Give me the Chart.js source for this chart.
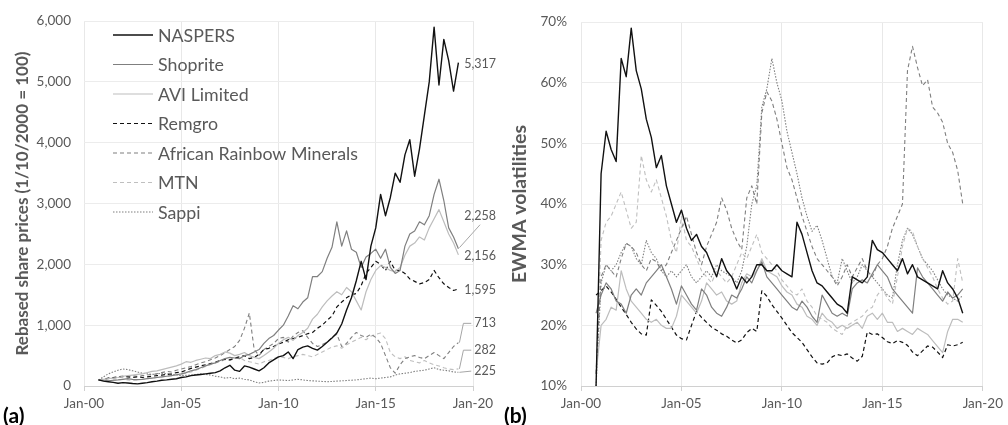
<!DOCTYPE html>
<html><head><meta charset="utf-8">
<script src="https://cdn.jsdelivr.net/npm/chart.js@4.4.1/dist/chart.umd.min.js"></script>
<style>
html,body{margin:0;padding:0;background:#fff;width:1008px;height:425px;overflow:hidden;}
#c1{position:absolute;left:0;top:0;}
#c2{position:absolute;left:500px;top:0;}
.tag{position:absolute;font-family:Lato,"Noto Sans",sans-serif;font-weight:bold;font-size:21px;color:#000;line-height:22px;}
</style></head><body>
<canvas id="c1" width="500" height="425"></canvas>
<canvas id="c2" width="508" height="425"></canvas>
<div class="tag" style="left:3px;top:404px">(a)</div>
<div class="tag" style="left:504px;top:404px">(b)</div>
<script>
// x positions: years since Jan-2000 (quarterly)
const dates = [0.75,
 1,1.25,1.5,1.75, 2,2.25,2.5,2.75, 3,3.25,3.5,3.75, 4,4.25,4.5,4.75,
 5,5.25,5.5,5.75, 6,6.25,6.5,6.75, 7,7.25,7.5,7.75, 8,8.25,8.5,8.75,
 9,9.25,9.5,9.75, 10,10.25,10.5,10.75, 11,11.25,11.5,11.75, 12,12.25,12.5,12.75,
 13,13.25,13.5,13.75, 14,14.25,14.5,14.75, 15,15.25,15.5,15.75, 16,16.25,16.5,16.75,
 17,17.25,17.5,17.75, 18,18.25,18.5,18.75, 19,19.25];

const seriesNames = ['NASPERS','Shoprite','AVI Limited','Remgro','African Rainbow Minerals','MTN','Sappi'];

// (a) Rebased share prices
const priceNaspers = [100,
 80,70,60,45, 55,50,40,35, 45,55,70,80, 95,100,110,120,
 140,150,170,180, 190,200,210,220, 250,300,340,260, 240,330,310,280,
 250,300,380,430, 480,500,560,450, 600,640,660,620, 590,650,720,790,
 870,1020,1250,1450, 1730,2050,1750,2300, 2600,3150,2800,3100, 3500,3350,3800,4050,
 3450,3900,4450,5000, 5900,4950,5700,5350, 4850,5317];
const priceShoprite = [100,
 90,85,95,100, 110,120,110,105, 110,120,130,140, 150,160,170,185,
 200,220,250,270, 300,330,360,380, 420,450,470,460, 450,500,520,560,
 600,700,780,830, 920,1000,1150,1320, 1270,1380,1450,1800, 1800,1880,2100,2280,
 2700,2300,2550,2250, 2200,1950,2120,2180, 2250,2100,2250,1950, 1850,1900,2300,2500,
 2550,2700,2650,2800, 3150,3400,3050,2600, 2450,2258];
const priceAvi = [100,
 110,120,130,140, 160,170,180,190, 200,220,240,250, 270,290,310,330,
 360,400,390,420, 440,460,450,500, 520,560,540,500, 520,550,500,470,
 450,500,560,620, 700,760,800,750, 830,880,950,1100, 1180,1300,1400,1480,
 1550,1500,1620,1550, 1400,1250,1550,1750, 1900,1980,1950,1900, 1880,1950,2150,2300,
 2350,2450,2400,2600, 2750,2900,2700,2500, 2350,2156];
const priceRemgro = [100,
 110,130,140,150, 160,150,140,150, 140,150,160,170, 180,190,200,220,
 230,260,290,310, 330,350,370,390, 420,440,430,460, 480,500,450,470,
 520,600,620,650, 690,720,760,780, 800,830,860,880, 950,1000,1080,1150,
 1300,1380,1450,1500, 1520,1650,1850,1950, 2050,2000,1900,2050, 1900,1900,1850,1760,
 1720,1680,1700,1750, 1900,1780,1680,1620, 1570,1595];
const priceArm = [100,
 110,120,130,140, 150,160,170,160, 170,180,190,200, 220,240,230,260,
 280,300,320,350, 380,400,430,460, 500,550,600,650, 750,950,1200,600,
 500,600,650,700, 780,800,720,820, 880,910,800,700, 650,680,720,800,
 850,650,700,800, 880,830,800,850, 800,700,500,300, 210,350,450,480,
 500,470,450,500, 550,500,450,550, 650,713];
const priceMtn = [100,
 90,80,90,100, 110,100,90,100, 110,120,130,140, 150,160,170,180,
 190,210,230,260, 290,320,350,380, 400,430,420,450, 470,420,400,380,
 360,400,420,450, 480,470,450,480, 500,520,500,480, 520,560,600,640,
 660,620,680,720, 760,800,760,820, 850,870,780,550, 480,450,480,420,
 400,380,420,380, 350,330,300,280, 270,282];
const priceSappi = [100,
 150,200,230,260, 280,270,250,230, 210,200,190,200, 210,200,190,180,
 170,175,180,190, 200,190,180,160, 150,130,140,120, 130,110,100,70,
 50,60,80,90, 100,95,90,100, 110,100,90,85, 80,75,70,75,
 80,85,90,95, 100,110,120,130, 120,130,140,150, 180,200,210,220,
 240,250,260,280, 300,270,260,250, 230,225];

// (b) EWMA volatilities (%)
const volNaspers = [10,
 45,52,49,47, 64,61,69,62, 59,54,51,46, 48,43,40,37,
 39,36,34,35, 33,32,30,28, 31,29,28,26, 28,27,28,30,
 30,29,29,30, 29,28.5,28,37, 35,32,29,27, 26.5,25.5,24.5,23.5,
 23,22,28,27.5, 27,28,34,32.5, 32,31,30,29, 31,28.5,30,28,
 27.5,27,26.5,26, 29,27,26,24.5, 22];
const volShoprite = [22,
 25,27,26,24, 23.5,22,25,26, 25,27,28,29, 30,28,26,23.5,
 26.5,25,23.5,22.5, 26,25,23,22, 21.5,23,25,24.5, 26,28,27,29,
 30.5,28,27,26, 25,24,23,22.5, 24,23,21.5,20.5, 25,23.5,22,21.5,
 22,21.5,26,27, 27.5,27,28.5,30, 29,28,26,25, 24,23,22,29.5,
 28,27,26,25, 24,25.5,24.5,25, 26];
const volAvi = [12,
 20,21,23,22.5, 29,26,24,23, 22,21,20.5,21, 20,19.5,19.5,21.5,
 25,24,23,22, 24,27,26,25, 25.5,24,23.5,24, 27,28.5,28,29,
 31,29,28.5,28, 26.5,25.5,25,23.5, 23,21.5,21,20, 22,21,20.5,19.5,
 20,19.5,20,20.5, 19.5,21.5,22,21, 22,20.5,20.5,19, 19.5,19,18.5,19.5,
 19,18.5,17.5,16.5, 15.5,19,21,21, 20.5];
const volRemgro = [25,
 25.7,26.5,25.5,24.3, 23,21.8,20.5,19.4, 18.6,18.4,24.2,23.3, 22.3,21,19.7,18.4,
 17.8,17.6,20,22.3, 21.3,20.5,19.7,19.2, 18.6,18.2,17.6,17.1, 17.6,18.8,19.5,19,
 25.7,24.8,23.4,22.3, 21.2,20,18.8,18, 17.2,16,14.8,13.8, 13.6,13.8,14.8,15.2,
 15,15.3,14.6,14.1, 14.9,18.9,18.5,18.6, 18,17.3,17,17.5, 17.2,16.7,15.6,15,
 15.8,16.6,16.4,15.6, 14.7,16.8,16.6,16.8, 17.2];
const volArm = [12,
 28,30,29,28, 31,33.5,33,32, 30,29,31,30.5, 29,30,32,34,
 36,38,35,32, 30,33,35,37, 41,39,36,34, 32.5,41,43,40,
 55,58.5,57,54, 50,46,44,41, 38,35.5,33,31, 30,29,28,26.5,
 28,30,28,29.5, 31,29,28,30, 31,33,36,38, 40,62,66,62.5,
 59.5,60.5,56,55, 53.5,50,48.5,45.5, 40];
const volMtn = [12,
 34,37,38,40, 42,39,36,37, 48,44,42,44, 41,38,34,32,
 38,34,33,31, 29,28,27,29, 28,27,28,30, 32,31,33,35,
 32,31,30,29, 27.5,26.5,25.5,25, 26,24,23,21.5, 21,20.5,19.5,19,
 18.5,20,20.5,21, 21.5,22.5,23,25, 26,24.5,23.5,28, 33,36,35.5,33,
 31,29.5,28,26, 24.5,23.5,24,31, 27];
const volSappi = [10,
 27,30,29,30, 32,33.5,33,31, 30,34,32,31, 29,28,29,28,
 29,30,28,27, 28,29,28,30, 29,28.5,28,27, 29,33,40,43,
 56,59,64,60, 57,52,48.5,45, 41,38,35.5,36.5, 34,31,28,27,
 31,29,27,28, 30,29,28,27, 26,25,24.5,30, 34,36,35,33,
 31,30,29,27.5, 26,25,24.5,24, 25];

const priceTicks = {min:0, max:6000, step:1000};
const volTicks = {min:10, max:70, step:10};
const xTicks = {min:0, max:20, step:5};

// ---------- styling ----------
const FONT = 'Lato, "Noto Sans", sans-serif';
Chart.defaults.font.family = FONT;
Chart.defaults.color = '#595959';
Chart.defaults.animation = false;

const styles = [
  {color:'#111111', width:1.4, dash:[]},
  {color:'#7f7f7f', width:1.2, dash:[]},
  {color:'#bdbdbd', width:1.2, dash:[]},
  {color:'#111111', width:1.2, dash:[4,3]},
  {color:'#7f7f7f', width:1.1, dash:[4,3]},
  {color:'#bfbfbf', width:1.1, dash:[4,3]},
  {color:'#7f7f7f', width:1.1, dash:[1.5,1.5]}
];

function mkDatasets(list){
  return list.map((vals,i)=>({
    label: seriesNames[i],
    data: vals.map((v,j)=>({x:dates[j], y:v})),
    borderColor: styles[i].color,
    borderWidth: styles[i].width,
    borderDash: styles[i].dash,
    pointRadius:0, tension:0, fill:false,
    borderCapStyle:'butt', borderJoinStyle:'round'
  }));
}

function xScale(){
  return {
    type:'linear', min:xTicks.min, max:xTicks.max,
    ticks:{stepSize:xTicks.step, padding:5, font:{size:13.5}, color:'#595959',
      callback:v=>'Jan-'+String(v).padStart(2,'0')},
    grid:{color:'#e8e8e8', lineWidth:1, drawTicks:true, tickLength:5, tickColor:'#d0d0d0'},
    border:{display:true, color:'#d0d0d0'},
    afterFit:s=>{s.height = 39;}
  };
}

const sideLegend = {
  id:'sideLegend',
  afterDraw(chart){
    const ctx = chart.ctx; ctx.save();
    chart.data.datasets.forEach((ds,i)=>{
      const y = 35 + i*29.5;
      ctx.beginPath();
      ctx.setLineDash(ds.borderDash||[]);
      ctx.strokeStyle = ds.borderColor; ctx.lineWidth = ds.borderWidth;
      ctx.moveTo(113,y); ctx.lineTo(153,y); ctx.stroke();
      ctx.setLineDash([]);
      ctx.fillStyle = '#595959'; ctx.font = '17.8px '+FONT; ctx.textBaseline = 'middle'; ctx.textAlign='left';
      ctx.fillText(ds.label,158,y+1);
    });
    ctx.restore();
  }
};

// end-of-series value labels (label anchor given in data units where moved)
const endLabelCfg = [
  {ds:0},
  {ds:1, labelAt:2800, leader:'below'},
  {ds:2},
  {ds:3},
  {ds:4, labelAt:1030, leader:'side'},
  {ds:5, labelAt:589, leader:'side'},
  {ds:6, labelAt:245, leader:'flat'}
];
const endLabels = {
  id:'endLabels',
  afterDatasetsDraw(chart){
    const ctx = chart.ctx, ys = chart.scales.y, xs = chart.scales.x;
    ctx.save();
    ctx.font = '12.5px '+FONT; ctx.fillStyle = '#595959'; ctx.textBaseline='middle'; ctx.textAlign='right';
    ctx.strokeStyle = '#a6a6a6'; ctx.lineWidth = 1;
    const rx = 496;
    endLabelCfg.forEach(c=>{
      const d = chart.data.datasets[c.ds].data;
      const last = d[d.length-1];
      const px = xs.getPixelForValue(last.x), py = ys.getPixelForValue(last.y);
      const text = last.y.toLocaleString('en-US');
      const w = ctx.measureText(text).width;
      const ly = c.labelAt!==undefined ? ys.getPixelForValue(c.labelAt) : py+1;
      if(c.leader==='below'){
        ctx.beginPath(); ctx.moveTo(px+1,py-1); ctx.lineTo(rx-w/2, ly+9); ctx.stroke();
      } else if(c.leader==='side'){
        ctx.beginPath(); ctx.moveTo(px+1,py); ctx.lineTo(px+5, ly); ctx.lineTo(rx-w-3, ly); ctx.stroke();
      } else if(c.leader==='flat'){
        ctx.beginPath(); ctx.moveTo(px+1,py); ctx.lineTo(rx-w-3, ly); ctx.stroke();
      }
      ctx.fillText(text, rx, ly);
    });
    ctx.restore();
  }
};

new Chart(document.getElementById('c1'),{
  type:'line',
  data:{datasets: mkDatasets([priceNaspers,priceShoprite,priceAvi,priceRemgro,priceArm,priceMtn,priceSappi])},
  options:{
    responsive:false, devicePixelRatio:1,
    layout:{padding:{left:0,right:27,top:19,bottom:0}},
    plugins:{legend:{display:false}, tooltip:{enabled:false}},
    scales:{
      x: xScale(),
      y:{min:priceTicks.min, max:priceTicks.max,
        ticks:{stepSize:priceTicks.step, padding:13, font:{size:13.5}, color:'#595959',
          callback:v=>v.toLocaleString('en-US')},
        grid:{color:'#ececec', drawTicks:false}, border:{display:false},
        title:{display:true, text:'Rebased share prices (1/10/2000 = 100)', color:'#595959',
          font:{size:17, weight:'bold'}, padding:{top:12,bottom:0}},
        afterFit:s=>{s.width = 84;}
      }
    }
  },
  plugins:[sideLegend, endLabels]
});

new Chart(document.getElementById('c2'),{
  type:'line',
  data:{datasets: mkDatasets([volNaspers,volShoprite,volAvi,volRemgro,volArm,volMtn,volSappi])},
  options:{
    responsive:false, devicePixelRatio:1,
    layout:{padding:{left:0,right:24,top:18,bottom:0}},
    plugins:{legend:{display:false}, tooltip:{enabled:false}},
    scales:{
      x: xScale(),
      y:{min:volTicks.min, max:volTicks.max,
        ticks:{stepSize:volTicks.step, padding:14, font:{size:13.5}, color:'#595959',
          callback:v=>v+'%'},
        grid:{color:'#ececec', drawTicks:false}, border:{display:false},
        title:{display:true, text:'EWMA volatilities', color:'#595959',
          font:{size:19.5, weight:'bold'}, padding:{top:8,bottom:0}},
        afterFit:s=>{s.width = 81;}
      }
    }
  }
});
</script>
</body></html>
